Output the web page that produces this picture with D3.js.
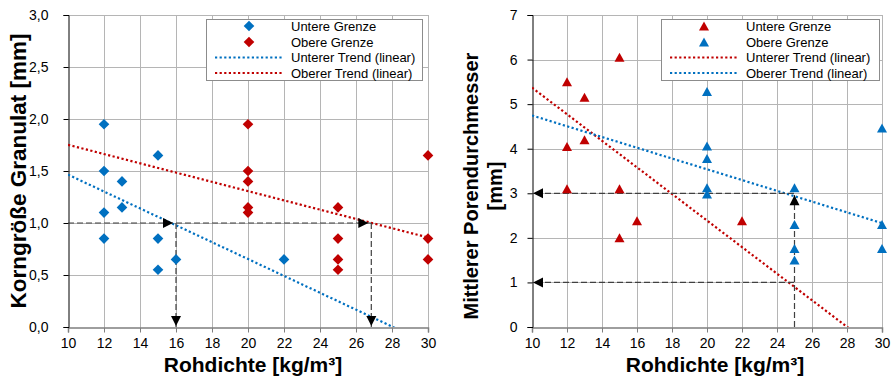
<!DOCTYPE html>
<html><head><meta charset="utf-8">
<script src="https://cdn.jsdelivr.net/npm/d3@7/dist/d3.min.js"></script>
<style>
html,body{margin:0;padding:0;background:#fff;}
svg{display:block;font-family:"Liberation Sans",Arial,sans-serif;}
</style></head>
<body>
<svg id="chart" width="891" height="379"></svg>
<script>
// ---------- DATA ----------
const xTicks = [10,12,14,16,18,20,22,24,26,28,30];
const leftYTicks = [0,0.5,1,1.5,2,2.5,3];
const rightYTicks = [0,1,2,3,4,5,6,7];

// Left chart: Korngröße Granulat
const leftLowerX = [12,12,12,12,13,13,15,15,15,16,22];
const leftLowerY = [1.95,1.5,1.1,0.85,1.4,1.15,1.65,0.85,0.55,0.65,0.65];
const leftUpperX = [20,20,20,20,20,25,25,25,25,30,30,30];
const leftUpperY = [1.95,1.5,1.4,1.15,1.1,1.15,0.85,0.65,0.55,1.65,0.85,0.65];

// Right chart: Mittlerer Porendurchmesser (one point at x=12 lies above the axis maximum)
const rightLowerX = [12,12,12,12,13,13,15,15,15,16,22];
const rightLowerY = [7.15,5.5,4.05,3.1,5.15,4.2,6.05,3.1,2.0,2.38,2.38];
const rightUpperX = [20,20,20,20,20,25,25,25,25,30,30,30];
const rightUpperY = [5.28,4.06,3.78,3.12,2.98,3.12,2.3,1.76,1.5,4.46,2.3,1.76];

// Guide (reading) lines
const leftGuideY = 1.0;
const leftGuideX = [16, 26.85];
const rightGuideX = 25;
const rightGuideY = [3.0, 1.0];

const legendLeft = ["Untere Grenze","Obere Grenze","Unterer Trend (linear)","Oberer Trend (linear)"];
const legendRight = ["Untere Grenze","Obere Grenze","Unterer Trend (linear)","Oberer Trend (linear)"];

const BLUE = "#0070C0", RED = "#C00000";

// ---------- HELPERS ----------
const svg = d3.select("#chart");
const deLocale = d3.formatLocale({decimal:",", thousands:".", grouping:[3], currency:["","€"]});
const fmt1 = deLocale.format(".1f");

function regression(xs, ys){
  const n = xs.length, mx = d3.mean(xs), my = d3.mean(ys);
  let sxy=0, sxx=0;
  for(let i=0;i<n;i++){ sxy += (xs[i]-mx)*(ys[i]-my); sxx += (xs[i]-mx)*(xs[i]-mx); }
  const b = sxy/sxx, a = my - b*mx;
  return x => a + b*x;
}
const diamond = { draw(ctx, size){ const r=5.3; ctx.moveTo(0,-r); ctx.lineTo(r,0); ctx.lineTo(0,r); ctx.lineTo(-r,0); ctx.closePath(); } };
const triangle = { draw(ctx, size){ ctx.moveTo(0,-4.6); ctx.lineTo(5,4.4); ctx.lineTo(-5,4.4); ctx.closePath(); } };

function arrow(g, x, y, dir, color){
  const L=10, W=5;
  let p;
  if(dir==="right") p=[[x,y],[x-L,y-W],[x-L,y+W]];
  if(dir==="left") p=[[x,y],[x+L,y-W],[x+L,y+W]];
  if(dir==="down") p=[[x,y],[x-W,y-L],[x+W,y-L]];
  if(dir==="up") p=[[x,y],[x-W,y+L],[x+W,y+L]];
  g.append("path").attr("d", "M"+p.map(d=>d.join(",")).join("L")+"Z").attr("fill", color||"#000");
}

function drawPanel(cfg){
  const {x0,x1,y0,y1,yDomain,yTicks,yFmt,labelGap,id} = cfg;
  const x = d3.scaleLinear().domain([10,30]).range([x0,x1]);
  const y = d3.scaleLinear().domain(yDomain).range([y1,y0]);
  const g = svg.append("g");
  const clipId = "clip"+id;
  svg.append("clipPath").attr("id",clipId).append("rect")
    .attr("x",x0).attr("y",y0).attr("width",x1-x0).attr("height",y1-y0);

  g.append("g").selectAll("line").data(xTicks.slice(1)).join("line")
    .attr("x1",d=>Math.round(x(d))+0.5).attr("x2",d=>Math.round(x(d))+0.5)
    .attr("y1",y0).attr("y2",y1).attr("stroke","#b5b5b5").attr("stroke-width",1);
  g.append("g").selectAll("line").data(yTicks.slice(1)).join("line")
    .attr("x1",x0).attr("x2",x1)
    .attr("y1",d=>Math.round(y(d))+0.5).attr("y2",d=>Math.round(y(d))+0.5)
    .attr("stroke","#b5b5b5").attr("stroke-width",1);

  const xa = g.append("g").attr("transform",`translate(0,${Math.round(y1)+0.5})`)
    .call(d3.axisBottom(x).tickValues(xTicks).tickSize(5).tickPadding(6).tickFormat(d3.format("d")));
  xa.select(".domain").attr("stroke","#7f7f7f").attr("stroke-width",1.5);
  xa.selectAll(".tick line").attr("stroke","#7f7f7f");
  xa.selectAll("text").attr("font-size",14).attr("fill","#000").attr("font-family","Liberation Sans, Arial, sans-serif");

  const ya = g.append("g").attr("transform",`translate(${Math.round(x0)+0.5},0)`)
    .call(d3.axisLeft(y).tickValues(yTicks).tickSize(5).tickPadding(labelGap).tickFormat(yFmt));
  ya.select(".domain").attr("stroke","#000");
  ya.selectAll(".tick line").attr("stroke","#000");
  ya.selectAll("text").attr("font-size",14).attr("fill","#000").attr("font-family","Liberation Sans, Arial, sans-serif");

  return {x,y,g,clipId};
}

// ---------- LEFT PANEL ----------
(function(){
  const P = drawPanel({id:"L",x0:68,x1:428,y0:15,y1:327,yDomain:[0,3],yTicks:leftYTicks,yFmt:fmt1,labelGap:15});
  const {x,y,g,clipId} = P;
  const fLow = regression(leftLowerX, leftLowerY);
  const fUp = regression(leftUpperX, leftUpperY);
  const lg = g.append("g").attr("clip-path",`url(#${clipId})`);
  [[fLow,BLUE],[fUp,RED]].forEach(([f,c])=>{
    lg.append("path").datum([10,30].map(v=>[v,f(v)]))
      .attr("d", d3.line().x(d=>x(d[0])).y(d=>y(d[1])))
      .attr("fill","none").attr("stroke",c).attr("stroke-width",2.2)
      .attr("stroke-dasharray","2.2,2.4");
  });
  const gd = g.append("g");
  const xr = leftGuideX[leftGuideX.length-1];
  gd.append("line").attr("x1",x(10)).attr("x2",x(xr)).attr("y1",y(leftGuideY)).attr("y2",y(leftGuideY))
    .attr("stroke","#404040").attr("stroke-width",1.2).attr("stroke-dasharray","6,3");
  leftGuideX.forEach(v=>{
    gd.append("line").attr("x1",x(v)).attr("x2",x(v)).attr("y1",y(leftGuideY)).attr("y2",y(0))
      .attr("stroke","#404040").attr("stroke-width",1.2).attr("stroke-dasharray","6,3");
    arrow(gd, x(v)-3, y(leftGuideY), "right");
    arrow(gd, x(v), y(0)-1, "down");
  });
  const pts = g.append("g");
  pts.selectAll(".lo").data(d3.zip(leftLowerX,leftLowerY).filter(d=>d[1]<=3)).join("path")
    .attr("d", d3.symbol(diamond)).attr("transform",d=>`translate(${x(d[0])},${y(d[1])})`).attr("fill",BLUE);
  pts.selectAll(".up").data(d3.zip(leftUpperX,leftUpperY).filter(d=>d[1]<=3)).join("path")
    .attr("d", d3.symbol(diamond)).attr("transform",d=>`translate(${x(d[0])},${y(d[1])})`).attr("fill",RED);

  const L = g.append("g");
  L.append("rect").attr("x",206.5).attr("y",19.5).attr("width",216).attr("height",61)
    .attr("fill","#fff").attr("stroke","#8c8c8c");
  const rows=[26,42,57.5,73];
  const cols=[BLUE,RED,BLUE,RED];
  legendLeft.forEach((t,i)=>{
    if(i<2){
      L.append("path").attr("d",d3.symbol(diamond)).attr("transform",`translate(249,${rows[i]})`).attr("fill",cols[i]);
    } else {
      L.append("line").attr("x1",215).attr("x2",282).attr("y1",rows[i]).attr("y2",rows[i])
        .attr("stroke",cols[i]).attr("stroke-width",2.2).attr("stroke-dasharray","2.2,2.4");
    }
    L.append("text").attr("x",291).attr("y",rows[i]).attr("dy","0.35em").attr("font-size",13).text(t);
  });

  g.append("text").attr("x",253).attr("y",372).attr("text-anchor","middle")
    .attr("font-size",21).attr("font-weight","bold").text("Rohdichte [kg/m³]");
  g.append("text").attr("transform","translate(26,171) rotate(-90)").attr("text-anchor","middle")
    .attr("font-size",22.5).attr("font-weight","bold").text("Korngröße Granulat [mm]");
})();

// ---------- RIGHT PANEL ----------
(function(){
  const P = drawPanel({id:"R",x0:532,x1:882,y0:15,y1:327,yDomain:[0,7],yTicks:rightYTicks,yFmt:d3.format("d"),labelGap:10});
  const {x,y,g,clipId} = P;
  const fLow = regression(rightLowerX, rightLowerY);
  const fUp = regression(rightUpperX, rightUpperY);
  const lg = g.append("g").attr("clip-path",`url(#${clipId})`);
  [[fLow,RED],[fUp,BLUE]].forEach(([f,c])=>{
    lg.append("path").datum([10,30].map(v=>[v,f(v)]))
      .attr("d", d3.line().x(d=>x(d[0])).y(d=>y(d[1])))
      .attr("fill","none").attr("stroke",c).attr("stroke-width",2.2)
      .attr("stroke-dasharray","2.2,2.4");
  });
  const gd = g.append("g");
  rightGuideY.forEach(v=>{
    gd.append("line").attr("x1",x(10)+4).attr("x2",x(rightGuideX)).attr("y1",y(v)).attr("y2",y(v))
      .attr("stroke","#404040").attr("stroke-width",1.2).attr("stroke-dasharray","6,3");
    arrow(gd, x(10)+1, y(v), "left");
  });
  gd.append("line").attr("x1",x(rightGuideX)).attr("x2",x(rightGuideX)).attr("y1",y(0)).attr("y2",y(rightGuideY[0]))
    .attr("stroke","#404040").attr("stroke-width",1.2).attr("stroke-dasharray","6,3");
  const pts = g.append("g");
  pts.selectAll(".lo").data(d3.zip(rightLowerX,rightLowerY).filter(d=>d[1]<=7)).join("path")
    .attr("d", d3.symbol(triangle)).attr("transform",d=>`translate(${x(d[0])},${y(d[1])})`).attr("fill",RED);
  pts.selectAll(".up").data(d3.zip(rightUpperX,rightUpperY).filter(d=>d[1]<=7)).join("path")
    .attr("d", d3.symbol(triangle)).attr("transform",d=>`translate(${x(d[0])},${y(d[1])})`).attr("fill",BLUE);
  arrow(gd, x(rightGuideX), y(rightGuideY[0])+2, "up");

  const L = g.append("g");
  L.append("rect").attr("x",661.5).attr("y",19.5).attr("width",218).attr("height",61)
    .attr("fill","#fff").attr("stroke","#8c8c8c");
  const rows=[26,42,57.5,73];
  const cols=[RED,BLUE,RED,BLUE];
  legendRight.forEach((t,i)=>{
    if(i<2){
      L.append("path").attr("d",d3.symbol(triangle)).attr("transform",`translate(704,${rows[i]})`).attr("fill",cols[i]);
    } else {
      L.append("line").attr("x1",670).attr("x2",737).attr("y1",rows[i]).attr("y2",rows[i])
        .attr("stroke",cols[i]).attr("stroke-width",2.2).attr("stroke-dasharray","2.2,2.4");
    }
    L.append("text").attr("x",746).attr("y",rows[i]).attr("dy","0.35em").attr("font-size",13).text(t);
  });

  g.append("text").attr("x",715).attr("y",372).attr("text-anchor","middle")
    .attr("font-size",21).attr("font-weight","bold").text("Rohdichte [kg/m³]");
  const t = g.append("text").attr("transform","translate(478,186) rotate(-90)").attr("text-anchor","middle")
    .attr("font-size",20).attr("font-weight","bold");
  t.append("tspan").attr("x",0).attr("y",0).text("Mittlerer Porendurchmesser");
  t.append("tspan").attr("x",0).attr("y",24).text("[mm]");
})();
</script>
</body></html>
